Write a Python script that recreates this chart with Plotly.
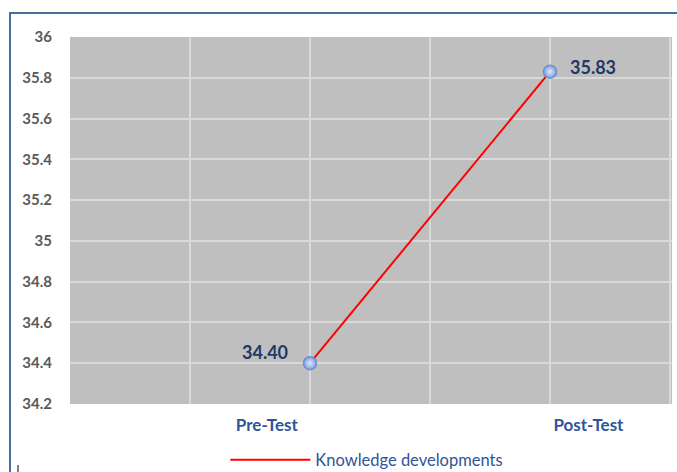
import plotly.graph_objects as go

categories = ["Pre-Test", "Post-Test"]
scores = [34.40, 35.83]
value_labels = ["34.40", "35.83"]
y_ticks = [34.2, 34.4, 34.6, 34.8, 35, 35.2, 35.4, 35.6, 35.8, 36]
y_ticktext = ["34.2", "34.4", "34.6", "34.8", "35", "35.2", "35.4", "35.6", "35.8", "36"]

x_pos = list(range(len(categories)))

fig = go.Figure()
fig.add_trace(go.Scatter(
    x=x_pos, y=scores,
    mode="lines",
    name="Knowledge developments",
    line=dict(color="#FF0000", width=2),
))
fig.add_trace(go.Scatter(
    x=x_pos, y=scores,
    mode="markers",
    showlegend=False,
    marker=dict(size=13, color="#7F9FDC",
                gradient=dict(type="radial", color="#DDE6F7"),
                line=dict(color="#6F8FD3", width=1.5)),
    cliponaxis=False,
))

label_font = dict(family="Lato", size=18, color="#1F3864", weight="bold")
anchors = ["right", "left"]
xshifts = [-20, 18]
yshifts = [11, 5]
for i in range(len(categories)):
    fig.add_annotation(x=x_pos[i], y=scores[i], text=value_labels[i],
                       showarrow=False, xanchor=anchors[i], yanchor="middle",
                       xshift=xshifts[i], yshift=yshifts[i], font=label_font)

fig.update_layout(
    width=677, height=472,
    margin=dict(l=70, r=5, t=37, b=68, autoexpand=False),
    paper_bgcolor="white",
    plot_bgcolor="#BFBFBF",
    showlegend=True,
    legend=dict(orientation="h", x=0.258, xanchor="left",
                yref="container", y=12 / 472, yanchor="middle",
                font=dict(family="Lato", size=16.5, color="#2F5597"),
                itemwidth=80, bgcolor="rgba(0,0,0,0)"),
    xaxis=dict(
        range=[-1, 1.5083],
        tickvals=[-0.18, 1.16],
        ticktext=categories,
        showgrid=False,
        zeroline=False,
        automargin=False,
        ticks="outside", ticklen=6, tickcolor="rgba(0,0,0,0)",
        tickfont=dict(family="Lato", size=17, color="#2F5597", weight="bold"),
        minor=dict(tickvals=[-0.5, 0, 0.5, 1, 1.5], showgrid=True,
                   gridcolor="#D9D9D9", gridwidth=1.5, ticks=""),
    ),
    yaxis=dict(
        range=[34.2, 36],
        tickvals=y_ticks,
        ticktext=y_ticktext,
        showgrid=True, gridcolor="#D9D9D9", gridwidth=1.5,
        zeroline=False,
        automargin=False,
        ticks="outside", ticklen=14, tickcolor="rgba(0,0,0,0)",
        tickfont=dict(family="Lato", size=15, color="#595959", weight="bold"),
    ),
    shapes=[
        dict(type="rect", xref="paper", yref="paper",
             x0=-60/602, x1=1.05, y0=-90/367, y1=1 + 24/367,
             line=dict(color="#41719C", width=2), fillcolor="rgba(0,0,0,0)",
             layer="below"),
        dict(type="line", xref="paper", yref="paper",
             x0=-52/602, x1=-52/602, y0=-61/367, y1=-75/367,
             line=dict(color="#000000", width=1)),
    ],
)

fig.write_html(
    "out.html",
    config={"displayModeBar": False},
    post_script="document.body.style.margin='0';document.body.style.overflow='hidden';",
)
